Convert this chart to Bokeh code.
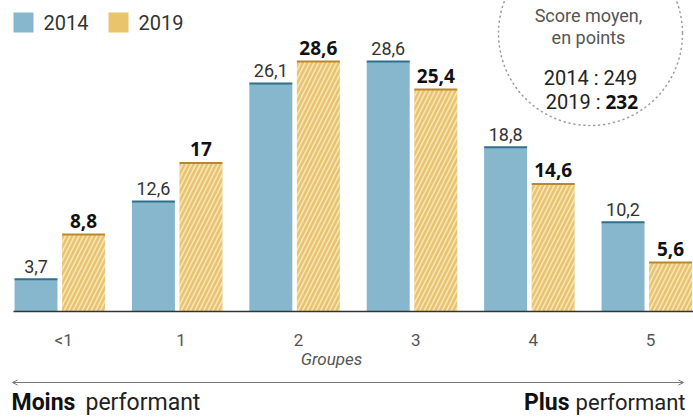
from bokeh.plotting import figure
from bokeh.models import Range1d, Arrow, OpenHead, ColumnDataSource
from bokeh.core.properties import value
from bokeh.embed import file_html
from bokeh.resources import INLINE

# ---- data ----
groups = ["<1", "1", "2", "3", "4", "5"]
values_2014 = [3.7, 12.6, 26.1, 28.6, 18.8, 10.2]
values_2019 = [8.8, 17.0, 28.6, 25.4, 14.6, 5.6]
labels_2014 = ["3,7", "12,6", "26,1", "28,6", "18,8", "10,2"]
labels_2019 = ["8,8", "17", "28,6", "25,4", "14,6", "5,6"]
series_names = ["2014", "2019"]
score_2014 = "249"
score_2019 = "232"

# ---- layout constants (pixels of the 693x418 page) ----
W, H = 693, 418
X0_PX = 59.0        # pixel of group 0 centre
GROUP_PX = 117.4    # pixels between group centres
BASE_PX = 311.0     # pixel row of value 0
UNIT_PX = 8.74      # pixels per percentage point

def dx(px):
    return (px - X0_PX) / GROUP_PX

def dy(py):
    return (BASE_PX - py) / UNIT_PX

BLUE = "#86b7cc"
BLUE_TOP = "#2f6f8f"
ORANGE = "#eac46c"
ORANGE_TOP = "#b8892c"
FONT = value("Roboto")

p = figure(width=W, height=H, output_backend="svg", toolbar_location=None,
           x_range=Range1d(dx(0), dx(W)), y_range=Range1d(dy(H), dy(0)),
           x_axis_location=None, y_axis_location=None, min_border=0,
           outline_line_color=None, background_fill_color="white",
           border_fill_color="white")
p.grid.visible = False

idx = list(range(len(groups)))
BW = 0.366
x14 = [i - 0.2 for i in idx]
x19 = [i + 0.205 for i in idx]

src14 = ColumnDataSource(dict(x=x14, top=values_2014, lab=labels_2014,
                              x0=[x - BW / 2 for x in x14], x1=[x + BW / 2 for x in x14]))
src19 = ColumnDataSource(dict(x=x19, top=values_2019, lab=labels_2019,
                              x0=[x - BW / 2 for x in x19], x1=[x + BW / 2 for x in x19]))

p.vbar(x="x", top="top", bottom=0, width=BW, source=src14,
       fill_color=BLUE, line_color=None)
p.vbar(x="x", top="top", bottom=0, width=BW, source=src19,
       fill_color=ORANGE, line_color=None,
       hatch_pattern="/", hatch_color="white", hatch_alpha=0.55,
       hatch_scale=9, hatch_weight=1.6)
p.segment(x0="x0", x1="x1", y0="top", y1="top", source=src14,
          line_color=BLUE_TOP, line_width=2)
p.segment(x0="x0", x1="x1", y0="top", y1="top", source=src19,
          line_color=ORANGE_TOP, line_width=2)

# baseline
p.segment(x0=[dx(13)], x1=[dx(W)], y0=[0], y1=[0], line_color="#333333", line_width=1.5)

# value labels
p.text(x="x", y="top", text="lab", source=src14, text_align="center",
       text_baseline="middle", y_offset=-13, text_font=FONT,
       text_font_size="18px", text_color="#333333")
p.text(x="x", y="top", text="lab", source=src19, text_align="center",
       text_baseline="middle", y_offset=-14, text_font=value("Open Sans"),
       text_font_style="bold", text_font_size="19px", text_color="#111111")

# category labels
p.text(x=[i + 0.035 for i in idx], y=[dy(339)] * len(idx), text=groups,
       text_align="center", text_baseline="middle", text_font=FONT,
       text_font_size="17px", text_color="#555555")
p.text(x=[dx(331)], y=[dy(358)], text=["Groupes"], text_align="center",
       text_baseline="middle", text_font=FONT, text_font_style="italic",
       text_font_size="17px", text_color="#555555")

# arrow
p.add_layout(Arrow(x_start=dx(12), x_end=dx(683), y_start=dy(382), y_end=dy(382),
                   line_color="#777777", line_width=1,
                   start=OpenHead(size=5, line_color="#777777", line_width=1),
                   end=OpenHead(size=5, line_color="#777777", line_width=1)))

BOT_Y = dy(402)
p.text(x=[dx(11)], y=[BOT_Y], text=["Moins"], text_align="left",
       text_baseline="middle", text_font=FONT, text_font_style="bold",
       text_font_size="23px", text_color="#111111")
p.text(x=[dx(85)], y=[BOT_Y], text=["performant"], text_align="left",
       text_baseline="middle", text_font=FONT,
       text_font_size="23px", text_color="#222222")
p.text(x=[dx(685)], y=[BOT_Y], text=["performant"], text_align="right",
       text_baseline="middle", text_font=FONT,
       text_font_size="22px", text_color="#222222")
p.text(x=[dx(569)], y=[BOT_Y], text=["Plus"], text_align="right",
       text_baseline="middle", text_font=FONT, text_font_style="bold",
       text_font_size="23px", text_color="#111111")

# legend
p.scatter(x=[dx(23), dx(118)], y=[dy(22), dy(22)], marker="square", size=20,
          fill_color=[BLUE, ORANGE], line_color=None)
p.text(x=[dx(43), dx(138)], y=[dy(22), dy(22)], text=series_names,
       text_align="left", text_baseline="middle", text_font=FONT,
       text_font_size="20px", text_color="#333333")

# score bubble
p.scatter(x=[dx(590)], y=[dy(33)], marker="circle", size=184,
          fill_color=None, line_color="#9a9a9a", line_width=1.5,
          line_dash="1 4", line_cap="round")
p.text(x=[dx(588), dx(588)], y=[dy(15), dy(37)], text=["Score moyen,", "en points"],
       text_align="center", text_baseline="middle", text_font=FONT,
       text_font_size="18px", text_color="#555555")
p.text(x=[dx(590)], y=[dy(77)], text=["2014 : " + score_2014],
       text_align="center", text_baseline="middle", text_font=FONT,
       text_font_size="20px", text_color="#222222")
p.text(x=[dx(600)], y=[dy(101)], text=["2019 :"],
       text_align="right", text_baseline="middle", text_font=FONT,
       text_font_size="20px", text_color="#222222")
p.text(x=[dx(605)], y=[dy(101)], text=[score_2019],
       text_align="left", text_baseline="middle", text_font=value("Open Sans"),
       text_font_style="bold", text_font_size="19px", text_color="#111111")

open("out.html", "w").write(file_html(p, INLINE))
